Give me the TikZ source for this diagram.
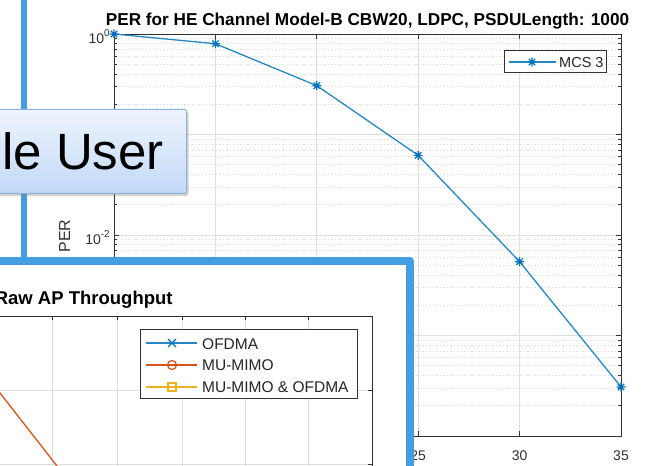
\documentclass[tikz,border=0pt]{standalone}
\usepackage{fontspec}
\setmainfont{Liberation Sans}
\usepackage{tikz}
\usetikzlibrary{arrows.meta,positioning,calc,shadows}

\definecolor{matblue}{RGB}{0,114,189}
\definecolor{matorange}{RGB}{217,83,25}
\definecolor{matyellow}{RGB}{237,177,32}
\definecolor{axgray}{RGB}{50,50,50}
\definecolor{gridgray}{RGB}{222,222,222}
\definecolor{slideblue}{RGB}{66,157,227}
\definecolor{boxedge}{RGB}{140,178,226}
\definecolor{boxtop}{RGB}{238,244,253}
\definecolor{boxbot}{RGB}{194,217,247}

\newcommand\tenpow[1]{10\raisebox{0.5em}{\fontsize{10bp}{10bp}\selectfont #1}}
\newcommand\matstar[1]{\draw[matblue,line width=1.2bp] #1 +(-4.5,0) -- +(4.5,0) +(0,-4.5) -- +(0,4.5)
  +(-3.2,-3.2) -- +(3.2,3.2) +(-3.2,3.2) -- +(3.2,-3.2);}

\tikzset{
  majgrid/.style={gridgray,line width=0.7bp},
  mingrid/.style={gridgray!90,line width=0.7bp,dash pattern=on 1.5bp off 2bp},
  axline/.style={axgray,line width=0.8bp},
  dataline/.style={line width=1.3bp},
  ticklab/.style={text=axgray,inner sep=0pt,font=\fontsize{14bp}{16bp}\selectfont},
  legtext/.style={text=black!85,inner sep=0pt,anchor=base west},
  legbox/.style={draw=axgray,fill=white,line width=0.8bp},
}

\begin{document}
\begin{tikzpicture}[x=1bp,y=-1bp,
  declare function={sx(\s)=114+(\s-10)*20.28; sy(\p)=34-100.5*log10(\p);}]
\useasboundingbox (0,0) rectangle (654,466);
\clip (0,0) rectangle (654,466);
\fill[white] (0,0) rectangle (654,466);

% PER plot: log grid and ticks
\foreach \d in {0,...,3}
  \foreach \m in {2,...,9} {
    \pgfmathsetmacro\yy{34+100.5*(\d+1-log10(\m))}
    \draw[mingrid] (114,\yy) -- (621,\yy);
    \draw[axline] (114,\yy) -- ++(3,0) (621,\yy) -- ++(-3,0);
  }
\foreach \d in {1,2,3}
  \draw[majgrid] (114,{34+100.5*\d}) -- (621,{34+100.5*\d});
\foreach \d in {0,...,4}
  \draw[axline] (114,{34+100.5*\d}) -- ++(5,0) (621,{34+100.5*\d}) -- ++(-5,0);
\foreach \s in {15,20,25,30}
  \draw[majgrid] ({sx(\s)},34) -- ({sx(\s)},436);
\foreach \s in {10,15,...,35}
  \draw[axline] ({sx(\s)},34) -- ++(0,5) ({sx(\s)},436) -- ++(0,-5);
\draw[axline] (114,34) rectangle (621,436);

% MCS 3 curve
\foreach \s/\p in {10/1,15/0.8,20/0.306,25/0.062,30/0.0054,35/0.0003}
  \coordinate (per\s) at ({sx(\s)},{sy(\p)});
\draw[matblue!85,dataline] (per10) -- (per15) -- (per20) -- (per25) -- (per30) -- (per35);
\foreach \s in {10,15,...,35} {\matstar{(per\s)}}

\node[ticklab,anchor=base east] (ylab0) at (110,43.5) {\tenpow{0}};
\node[ticklab,anchor=base east] (ylab2) at (110,{sy(0.01)+9.5}) {\tenpow{-2}};
\foreach \s in {25,30,35}
  \node[ticklab,anchor=base] (xlab\s) at ({sx(\s)},460) {\s};
\node[rotate=90,anchor=base,inner sep=0pt,text=axgray,font=\fontsize{16bp}{18bp}\selectfont] (perlab) at (70,236) {PER};
\node[anchor=base,inner sep=0pt,font=\bfseries\fontsize{17.2bp}{19bp}\selectfont] (pertitle) at (367.5,26)
  {PER for HE Channel Model-B CBW20, LDPC, PSDULength: 1000};

\draw[legbox] (504,50) rectangle (606,72);
\draw[matblue!85,dataline] (509,62) -- (556,62);
\matstar{(532,62)}
\node[legtext,font=\fontsize{14.5bp}{16bp}\selectfont] (mcs) at (559,67.5) {MCS 3};

% slide frames
\draw[slideblue,line width=6.5bp] (24,-5) -- (24,262);
\fill[white] (-10,261) rectangle (410,480);

% throughput plot
\foreach \x in {52,117,182,245,308} {
  \draw[majgrid] (\x,316) -- (\x,480);
  \draw[axline] (\x,316) -- ++(0,4);
}
\foreach \y in {390,464.5} {
  \draw[majgrid] (-10,\y) -- (372,\y);
  \draw[axline] (372,\y) -- ++(-4,0);
}
\draw[axline] (-10,316) -- (372,316) -- (372,480);
\draw[matorange,dataline] (-10,380.2) -- (62,472.4);
\node[anchor=base west,inner sep=0pt,font=\bfseries\fontsize{18.5bp}{21bp}\selectfont] (rawtitle) at (-5.4,305)
  {Raw AP Throughput};

\draw[legbox] (140,329) rectangle (357,398);
\draw[matblue!85,dataline] (146,343) -- (197,343);
\draw[matblue,line width=1.2bp] (172,343) +(-4,-4) -- +(4,4) +(-4,4) -- +(4,-4);
\draw[matorange,dataline] (146,365) -- (197,365);
\draw[matorange,line width=1.2bp] (172,365) circle (4.5);
\draw[matyellow,dataline] (146,387) -- (197,387);
\draw[matyellow,line width=1.2bp] (168,383) rectangle (176,391);
\node[legtext,font=\fontsize{15.5bp}{17bp}\selectfont] (ofdma) at (202,349) {OFDMA};
\node[legtext,font=\fontsize{15.5bp}{17bp}\selectfont] (mumimo) at (202,370) {MU-MIMO};
\node[legtext,font=\fontsize{15.5bp}{17bp}\selectfont] (both) at (202,392) {MU-MIMO \& OFDMA};

\draw[slideblue,line width=8bp,line join=round] (-10,261) -- (410,261) -- (410,480);

% callout
\node[draw=boxedge,line width=1bp,top color=boxtop,bottom color=boxbot,rounded corners=2bp,
  minimum width=210bp,minimum height=84bp,anchor=north east,
  drop shadow={shadow xshift=2bp,shadow yshift=-2.5bp,opacity=0.35}] (userbox) at (187,109) {};
\node[anchor=base east,inner sep=0pt,font=\fontsize{51bp}{56bp}\selectfont] (usertext) at (164,170) {le User};
\end{tikzpicture}
\end{document}
